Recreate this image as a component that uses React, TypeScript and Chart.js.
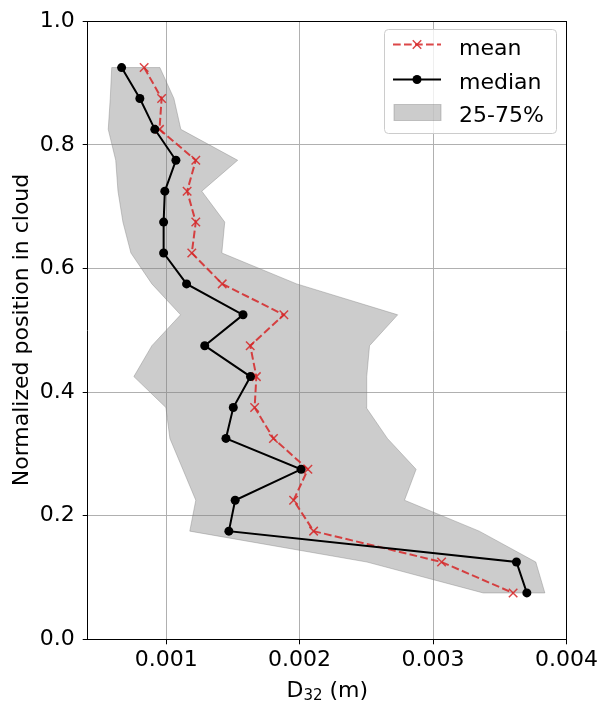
import React, { useEffect, useRef } from 'react';
import { Chart, registerables } from 'chart.js';

Chart.register(...registerables);

// ---- data ----
const positions = [0.925, 0.875, 0.825, 0.775, 0.725, 0.675, 0.625, 0.575, 0.525, 0.475, 0.425, 0.375, 0.325, 0.275, 0.225, 0.175, 0.125, 0.075];
const meanD32 = [0.000835, 0.000966, 0.00095, 0.001222, 0.001157, 0.001222, 0.001192, 0.00142, 0.001882, 0.00163, 0.001676, 0.001663, 0.001804, 0.002062, 0.001955, 0.002105, 0.003064, 0.0036];
const medianD32 = [0.000666, 0.000803, 0.000915, 0.001073, 0.00099, 0.000981, 0.000981, 0.001153, 0.001576, 0.001289, 0.001632, 0.001503, 0.001448, 0.002011, 0.001517, 0.00147, 0.003625, 0.003703];
const q25D32 = [0.000592, 0.000581, 0.000566, 0.000622, 0.000639, 0.000676, 0.000736, 0.000893, 0.001108, 0.000893, 0.000758, 0.000998, 0.001028, 0.001125, 0.001222, 0.001177, 0.002505, 0.003376];
const q75D32 = [0.000953, 0.001058, 0.00111, 0.001536, 0.001267, 0.001439, 0.001417, 0.001978, 0.002735, 0.002524, 0.002503, 0.002499, 0.002658, 0.002873, 0.002786, 0.003346, 0.00377, 0.003838];
const xTicks = [0.001, 0.002, 0.003, 0.004];
const yTicks = [0, 0.2, 0.4, 0.6, 0.8, 1.0];
const seriesLabels = ['mean', 'median', '25-75%'];
const xTitleMain = 'D';
const xTitleSub = '32';
const xTitleUnit = ' (m)';
const yTitle = 'Normalized position in cloud';

const FONT = '"DejaVu Sans", "Liberation Sans", sans-serif';
const FS = 22;
const RED = 'rgba(214, 39, 40, 0.85)';
const BAND = 'rgba(128, 128, 128, 0.4)';

const spinesPlugin = {
  id: 'spines',
  afterDatasetsDraw(chart: any) {
    const { ctx, chartArea: a } = chart;
    ctx.save();
    ctx.strokeStyle = '#000';
    ctx.lineWidth = 1;
    ctx.beginPath();
    const t = Math.round(a.top) + 0.5;
    const r = Math.round(a.right) - 0.5;
    ctx.moveTo(Math.round(a.left), t);
    ctx.lineTo(r + 0.5, t);
    ctx.moveTo(r, t);
    ctx.lineTo(r, Math.round(a.bottom));
    ctx.stroke();
    ctx.restore();
  },
};

const titlesPlugin = {
  id: 'titles',
  afterDraw(chart: any) {
    const { ctx, chartArea: a } = chart;
    ctx.save();
    ctx.fillStyle = '#000';
    // y title
    ctx.font = `${FS}px ${FONT}`;
    ctx.textAlign = 'center';
    ctx.textBaseline = 'alphabetic';
    ctx.translate(28, 330);
    ctx.rotate(-Math.PI / 2);
    ctx.fillText(yTitle, 0, 0);
    ctx.restore();

    // x title with subscript
    ctx.save();
    ctx.fillStyle = '#000';
    ctx.textBaseline = 'alphabetic';
    ctx.textAlign = 'left';
    const mainFont = `${FS}px ${FONT}`;
    const subFont = `15px ${FONT}`;
    ctx.font = mainFont;
    const w1 = ctx.measureText(xTitleMain).width;
    const w3 = ctx.measureText(xTitleUnit).width;
    ctx.font = subFont;
    const w2 = ctx.measureText(xTitleSub).width;
    const total = w1 + w2 + w3;
    let x = (a.left + a.right) / 2 - total / 2;
    const base = 697;
    ctx.font = mainFont;
    ctx.fillText(xTitleMain, x, base);
    x += w1;
    ctx.font = subFont;
    ctx.fillText(xTitleSub, x, base + 2.5);
    x += w2;
    ctx.font = mainFont;
    ctx.fillText(xTitleUnit, x, base);
    ctx.restore();
  },
};

const legendPlugin = {
  id: 'customLegend',
  afterDraw(chart: any) {
    const { ctx } = chart;
    ctx.save();
    const bx = 384.5, by = 29.5, bw = 172, bh = 104, rad = 4;
    ctx.beginPath();
    ctx.moveTo(bx + rad, by);
    ctx.lineTo(bx + bw - rad, by);
    ctx.arcTo(bx + bw, by, bx + bw, by + rad, rad);
    ctx.lineTo(bx + bw, by + bh - rad);
    ctx.arcTo(bx + bw, by + bh, bx + bw - rad, by + bh, rad);
    ctx.lineTo(bx + rad, by + bh);
    ctx.arcTo(bx, by + bh, bx, by + bh - rad, rad);
    ctx.lineTo(bx, by + rad);
    ctx.arcTo(bx, by, bx + rad, by, rad);
    ctx.closePath();
    ctx.fillStyle = 'rgba(255,255,255,0.8)';
    ctx.fill();
    ctx.strokeStyle = '#cccccc';
    ctx.lineWidth = 1;
    ctx.stroke();

    const hx0 = 393, hx1 = 441, hc = 417;
    // mean
    const y1 = 44.5;
    ctx.strokeStyle = RED;
    ctx.lineWidth = 2;
    ctx.setLineDash([7.7, 3.3]);
    ctx.beginPath();
    ctx.moveTo(hx0, y1);
    ctx.lineTo(hx1, y1);
    ctx.stroke();
    ctx.setLineDash([]);
    ctx.lineWidth = 1.5;
    const o = 6 * Math.SQRT1_2;
    ctx.beginPath();
    ctx.moveTo(hc - o, y1 - o);
    ctx.lineTo(hc + o, y1 + o);
    ctx.moveTo(hc - o, y1 + o);
    ctx.lineTo(hc + o, y1 - o);
    ctx.stroke();
    // median
    const y2 = 79.5;
    ctx.strokeStyle = '#000';
    ctx.lineWidth = 2;
    ctx.beginPath();
    ctx.moveTo(hx0, y2);
    ctx.lineTo(hx1, y2);
    ctx.stroke();
    ctx.fillStyle = '#000';
    ctx.beginPath();
    ctx.arc(hc, y2, 4.5, 0, Math.PI * 2);
    ctx.fill();
    // band
    ctx.fillStyle = BAND;
    ctx.strokeStyle = BAND;
    ctx.lineWidth = 1;
    ctx.fillRect(394, 104.5, 47, 16);
    ctx.strokeRect(394, 104.5, 47, 16);

    // text
    ctx.fillStyle = '#000';
    ctx.font = `${FS}px ${FONT}`;
    ctx.textAlign = 'left';
    ctx.textBaseline = 'alphabetic';
    const baselines = [55, 89, 122];
    seriesLabels.forEach((lab, i) => ctx.fillText(lab, 459, baselines[i]));
    ctx.restore();
  },
};

export default function App() {
  const ref = useRef<HTMLCanvasElement | null>(null);

  useEffect(() => {
    if (!ref.current) return;
    const meanPts = positions.map((y, i) => ({ x: meanD32[i], y }));
    const medianPts = positions.map((y, i) => ({ x: medianD32[i], y }));
    const lower = positions.map((y, i) => ({ x: q25D32[i], y }));
    const upper = positions.map((y, i) => ({ x: q75D32[i], y })).reverse();
    const bandPts = [...lower, ...upper, lower[0]];

    const chart = new Chart(ref.current, {
      type: 'line',
      data: {
        datasets: [
          {
            label: seriesLabels[2],
            data: bandPts,
            fill: 'shape',
            backgroundColor: BAND,
            borderColor: BAND,
            borderWidth: 1,
            pointRadius: 0,
            tension: 0,
            order: 3,
          },
          {
            label: seriesLabels[0],
            data: meanPts,
            borderColor: RED,
            backgroundColor: RED,
            borderWidth: 2,
            borderDash: [7.7, 3.3],
            pointStyle: 'crossRot',
            pointRadius: 6,
            pointBorderColor: RED,
            pointBorderWidth: 1.5,
            fill: false,
            tension: 0,
            order: 2,
          },
          {
            label: seriesLabels[1],
            data: medianPts,
            borderColor: '#000',
            backgroundColor: '#000',
            borderWidth: 2,
            pointStyle: 'circle',
            pointRadius: 4.5,
            pointBackgroundColor: '#000',
            pointBorderColor: '#000',
            pointBorderWidth: 0,
            fill: false,
            tension: 0,
            order: 1,
          },
        ],
      } as any,
      options: {
        responsive: false,
        animation: false,
        events: [],
        layout: { padding: { left: 0, right: 33.7, top: 16.7, bottom: 0 } },
        plugins: {
          legend: { display: false },
          tooltip: { enabled: false },
        },
        scales: {
          x: {
            type: 'linear',
            min: 0.000412,
            max: 0.004003,
            afterBuildTicks: (s: any) => {
              s.ticks = xTicks.map((v) => ({ value: v }));
            },
            afterFit: (s: any) => {
              s.height = 66.7;
            },
            ticks: {
              callback: (v: any) => Number(v).toFixed(3),
              font: { family: FONT, size: FS },
              color: '#000',
              padding: 3,
              maxRotation: 0,
              autoSkip: false,
            },
            grid: { color: '#b0b0b0', lineWidth: 1, tickLength: 5, tickColor: '#000', drawTicks: true },
            border: { color: '#000', width: 1 },
          },
          y: {
            type: 'linear',
            min: 0,
            max: 1,
            afterBuildTicks: (s: any) => {
              s.ticks = yTicks.map((v) => ({ value: v }));
            },
            afterFit: (s: any) => {
              s.width = 87.7;
            },
            ticks: {
              callback: (v: any) => Number(v).toFixed(1),
              font: { family: FONT, size: FS },
              color: '#000',
              padding: 8,
              autoSkip: false,
            },
            grid: { color: '#b0b0b0', lineWidth: 1, tickLength: 5, tickColor: '#000', drawTicks: true },
            border: { color: '#000', width: 1 },
          },
        },
      } as any,
      plugins: [spinesPlugin, titlesPlugin, legendPlugin],
    });
    return () => chart.destroy();
  }, []);

  return (
    <div style={{ position: 'fixed', left: 0, top: 0, width: 601, height: 706, background: '#fff' }}>
      <canvas ref={ref} width={601} height={706} style={{ width: 601, height: 706, display: 'block' }} />
    </div>
  );
}
